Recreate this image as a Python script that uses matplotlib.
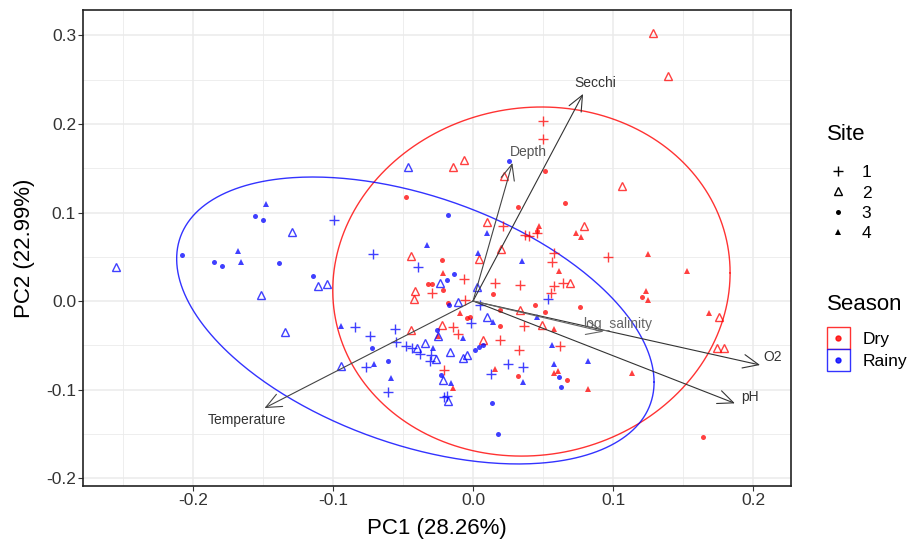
import numpy as np
import matplotlib
matplotlib.use('Agg')
import matplotlib.pyplot as plt
from matplotlib.lines import Line2D
from matplotlib.patches import Rectangle
from matplotlib.legend_handler import HandlerBase

plt.rcParams['font.family'] = ['Liberation Sans', 'DejaVu Sans']

# ---------------- data ----------------
dry_site1_pc1 = [0.050, 0.050, 0.0216, 0.0371, 0.040, 0.0455, 0.0579, 0.0562, 0.0964, -0.0064, -0.0295, -0.0054,
                 0.0157, 0.0336, 0.0575, 0.0639, 0.0557, -0.0141, -0.0104, 0.0193, 0.0364, 0.0329, 0.0624, -0.0211]
dry_site1_pc2 = [0.203, 0.183, 0.0847, 0.0751, 0.0738, 0.0765, 0.0546, 0.0446, 0.0501, 0.0245, 0.0087, 0.0008,
                 0.020, 0.0177, 0.0169, 0.0198, 0.0096, -0.029, -0.0373, -0.0441, -0.0286, -0.0557, -0.0505, -0.0785]

dry_site2_pc1 = [0.1286, 0.1393, 0.1066, -0.0064, -0.0141, 0.0221, 0.010, 0.0793, 0.020, -0.0443, 0.0043, -0.0414,
                 -0.0419, 0.0693, 0.0332, 0.0493, -0.0225, -0.0441, 0.0069, 0.1759, 0.1741, 0.1793]
dry_site2_pc2 = [0.3032, 0.2542, 0.1303, 0.1593, 0.1511, 0.1412, 0.0889, 0.0847, 0.0588, 0.0514, 0.0478, 0.0113,
                 0.002, 0.0198, -0.0102, -0.0275, -0.0266, -0.0331, -0.0441, -0.0184, -0.0528, -0.0528]

dry_site3_pc1 = [0.0516, -0.0479, 0.0318, 0.0659, 0.0455, -0.0224, -0.0319, -0.0291, -0.0218, 0.0139, -0.0181,
                 0.0189, 0.0443, 0.0764, 0.0514, -0.0045, -0.002, 0.0193, 0.1209, 0.0319, 0.0674, 0.1645]
dry_site3_pc2 = [0.147, 0.1175, 0.1059, 0.1102, 0.0791, 0.0463, 0.0189, 0.0195, 0.0124, 0.0079, -0.0019,
                 -0.0102, -0.0045, -0.0064, -0.0128, -0.0195, -0.0177, -0.0282, 0.0049, -0.0842, -0.0896, -0.154]

dry_site4_pc1 = [0.0471, 0.0734, 0.0774, 0.1248, 0.1531, 0.0616, -0.0212, 0.1234, 0.1248, 0.1686, -0.0096,
                 0.0579, -0.025, 0.0159, 0.0579, 0.0605, -0.0146, 0.0821, 0.1136]
dry_site4_pc2 = [0.0847, 0.0772, 0.072, 0.0531, 0.0336, 0.0342, 0.0311, 0.0111, 0.0011, -0.0139, -0.0141,
                 -0.0314, -0.0395, -0.0766, -0.0817, -0.0789, -0.0986, -0.0998, -0.081]

rainy_site1_pc1 = [-0.0991, -0.0716, -0.0396, 0.0536, 0.0051, -0.0018, -0.0841, -0.0556, -0.0738, -0.055, -0.0479,
                   -0.0438, -0.0379, -0.030, -0.0311, -0.0766, -0.0606, -0.0207, -0.0184, 0.0249, 0.0355, 0.0125]
rainy_site1_pc2 = [0.0912, 0.0531, 0.0388, 0.0023, -0.0047, -0.0243, -0.0294, -0.032, -0.0392, -0.0463, -0.0508,
                   -0.0528, -0.0599, -0.061, -0.0678, -0.0742, -0.1025, -0.1088, -0.1073, -0.0708, -0.0742, -0.0827]

rainy_site2_pc1 = [-0.255, -0.1291, -0.1109, -0.1043, -0.1512, -0.1345, -0.0466, -0.0236, 0.0026, -0.0107, 0.0102,
                   -0.0251, -0.0943, -0.0344, -0.0402, -0.0266, -0.0164, -0.0069, -0.0043, -0.0212, -0.0182]
rainy_site2_pc2 = [0.0381, 0.0776, 0.0169, 0.0195, 0.0064, -0.0347, 0.1511, 0.0203, 0.0156, -0.0011, -0.0186,
                   -0.0395, -0.0734, -0.0478, -0.0534, -0.0653, -0.0579, -0.0644, -0.061, -0.0889, -0.113]

rainy_site3_pc1 = [-0.2081, -0.1557, -0.1502, -0.1848, -0.1791, -0.1384, -0.1145, 0.0255, -0.0181, -0.0134, -0.0187,
                   -0.0173, -0.0259, -0.0719, -0.0611, 0.0014, 0.0046, 0.0071, -0.023, 0.0132, 0.0181, 0.0612, 0.0631]
rainy_site3_pc2 = [0.052, 0.096, 0.0915, 0.0437, 0.0399, 0.0433, 0.0279, 0.1582, 0.0972, 0.0302, 0.0235,
                   -0.0049, -0.0322, -0.0534, -0.0678, -0.0556, -0.0514, -0.0499, -0.0838, -0.1156, -0.1506, -0.0864, -0.0972]

rainy_site4_pc1 = [-0.1479, -0.1676, -0.1655, -0.0332, 0.0101, 0.0036, 0.0352, -0.0943, 0.0457, 0.0143, -0.0073,
                   -0.0284, -0.0706, -0.0586, -0.0156, 0.0566, 0.058, 0.0819, 0.0355]
rainy_site4_pc2 = [0.1096, 0.0562, 0.0444, 0.0633, 0.0771, 0.0542, 0.0452, -0.0282, -0.0177, -0.0241, -0.0415,
                   -0.0528, -0.0714, -0.0867, -0.0929, -0.0497, -0.0712, -0.0678, -0.0918]

# loadings (arrows)
variables = ['Secchi', 'Depth', 'Temperature', 'O2', 'pH', 'log_salinity']
load_pc1 = [0.0786, 0.0281, -0.149, 0.205, 0.187, 0.0931]
load_pc2 = [0.234, 0.156, -0.121, -0.0723, -0.1156, -0.0347]
label_pc1 = [0.0871, 0.0393, -0.1614, 0.2143, 0.1979, 0.1036]
label_pc2 = [0.2458, 0.1684, -0.1345, -0.0633, -0.1085, -0.026]

# confidence ellipses per season (centre, semi-extent in x / y, shape coupling)
seasons = ['Dry', 'Rainy']
ellipse_cx = [0.0417, -0.0412]
ellipse_cy = [0.022, -0.022]
ellipse_ax = [0.1419, 0.1705]
ellipse_ay = [0.1972, 0.1621]
ellipse_cosd = [0.05, -0.43]

sites = ['1', '2', '3', '4']
x_ticks = [-0.2, -0.1, 0.0, 0.1, 0.2]
x_tick_labels = ['-0.2', '-0.1', '0.0', '0.1', '0.2']
y_ticks = [-0.2, -0.1, 0.0, 0.1, 0.2, 0.3]
y_tick_labels = ['-0.2', '-0.1', '0.0', '0.1', '0.2', '0.3']

# ---------------- styles ----------------
season_colors = {'Dry': '#FF0000', 'Rainy': '#0000FF'}
site_styles = {
    '1': dict(marker='+', ms=6.5, mew=1.0, mfc='none'),
    '2': dict(marker='^', ms=5.2, mew=1.0, mfc='none'),
    '3': dict(marker='o', ms=3.6, mew=0.0),
    '4': dict(marker='^', ms=4.3, mew=0.0),
}
groups = {
    ('Dry', '1'): (dry_site1_pc1, dry_site1_pc2),
    ('Dry', '2'): (dry_site2_pc1, dry_site2_pc2),
    ('Dry', '3'): (dry_site3_pc1, dry_site3_pc2),
    ('Dry', '4'): (dry_site4_pc1, dry_site4_pc2),
    ('Rainy', '1'): (rainy_site1_pc1, rainy_site1_pc2),
    ('Rainy', '2'): (rainy_site2_pc1, rainy_site2_pc2),
    ('Rainy', '3'): (rainy_site3_pc1, rainy_site3_pc2),
    ('Rainy', '4'): (rainy_site4_pc1, rainy_site4_pc2),
}

W, H = 907, 541
fig = plt.figure(figsize=(W / 100, H / 100), dpi=100)
ax = fig.add_axes([83 / W, 1 - 486 / H, (791 - 83) / W, (486 - 10) / H])

ax.set_xlim(-0.2786, 0.2271)
ax.set_ylim(-0.209, 0.3288)

# grid
ax.set_xticks(x_ticks)
ax.set_xticklabels(x_tick_labels)
ax.set_yticks(y_ticks)
ax.set_yticklabels(y_tick_labels)
ax.set_xticks([-0.25, -0.15, -0.05, 0.05, 0.15], minor=True)
ax.set_yticks([-0.15, -0.05, 0.05, 0.15, 0.25], minor=True)
ax.grid(which='major', color='#EBEBEB', lw=1.1)
ax.grid(which='minor', color='#EBEBEB', lw=0.6)
ax.set_axisbelow(True)
ax.tick_params(which='minor', length=0)
ax.tick_params(which='major', length=3.5, width=0.8, color='#333333',
               labelsize=12.5, labelcolor='#333333', pad=1.5)
for s in ax.spines.values():
    s.set_color('#222222')
    s.set_linewidth(1.2)

# ellipses
t = np.linspace(0, 2 * np.pi, 400)
for i, s in enumerate(seasons):
    d = np.arccos(ellipse_cosd[i])
    ex = ellipse_cx[i] + ellipse_ax[i] * np.cos(t)
    ey = ellipse_cy[i] + ellipse_ay[i] * np.cos(t - d)
    ax.plot(ex, ey, color=season_colors[s], lw=1.0, alpha=0.8, zorder=2)

# points
for (s, site), (xs, ys) in groups.items():
    st = site_styles[site]
    c = season_colors[s]
    ax.plot(xs, ys, ls='none', marker=st['marker'], ms=st['ms'], mew=st['mew'],
            mec=c, mfc=(c if st.get('mfc') is None else 'none'), alpha=0.75, zorder=3)

# arrows
label_colors = ['#333333', '#555555', '#333333', '#333333', '#333333', '#666666']
arrow_colors = ['#333333', '#444444', '#444444', '#333333', '#333333', '#666666']
for i, v in enumerate(variables):
    ax.annotate('', xy=(load_pc1[i], load_pc2[i]), xytext=(0, 0),
                arrowprops=dict(arrowstyle='->,head_length=0.8,head_width=0.35',
                                color=arrow_colors[i], lw=0.8, shrinkA=0, shrinkB=0,
                                mutation_scale=14), zorder=4)
    ax.text(label_pc1[i], label_pc2[i], v, fontsize=10, color=label_colors[i],
            ha='center', va='center', zorder=5)

ax.set_xlabel('PC1 (28.26%)', fontsize=16, labelpad=7)
ax.set_ylabel('PC2 (22.99%)', fontsize=16, labelpad=8)


# legends
class BoxDot(HandlerBase):
    def create_artists(self, legend, orig_handle, xdescent, ydescent, width, height, fontsize, trans):
        c = orig_handle.get_color()
        r = Rectangle((-xdescent, -ydescent), width, height, facecolor='white',
                      edgecolor=c, lw=1.0, alpha=0.8, transform=trans)
        d = Line2D([width / 2 - xdescent], [height / 2 - ydescent], marker='o', ls='none',
                   color=c, ms=3.6, alpha=0.8, transform=trans)
        return [r, d]


site_handles = []
for site in sites:
    st = site_styles[site]
    site_handles.append(Line2D([], [], ls='none', marker=st['marker'], ms=st['ms'], mew=st['mew'],
                               mec='black', mfc=('black' if st.get('mfc') is None else 'none')))
leg1 = fig.legend(site_handles, sites, loc='upper left', bbox_to_anchor=(827 / W, 1 - 165 / H),
                  frameon=False, fontsize=12.5, borderpad=0, borderaxespad=0,
                  handlelength=1.3, handletextpad=0.7, labelspacing=0.3)

season_handles = [Line2D([], [], color=season_colors[s]) for s in seasons]
leg2 = fig.legend(season_handles, seasons, loc='upper left', bbox_to_anchor=(827 / W, 1 - 327.5 / H),
                  frameon=False, fontsize=12.5, borderpad=0, borderaxespad=0,
                  handlelength=1.3, handleheight=1.55, handletextpad=0.75, labelspacing=0.0,
                  handler_map={Line2D: BoxDot()})

fig.text(827 / W, 1 - 134 / H, 'Site', fontsize=16, ha='left', va='center')
fig.text(827 / W, 1 - 305 / H, 'Season', fontsize=16, ha='left', va='center')

fig.savefig('out.png', dpi=100)
